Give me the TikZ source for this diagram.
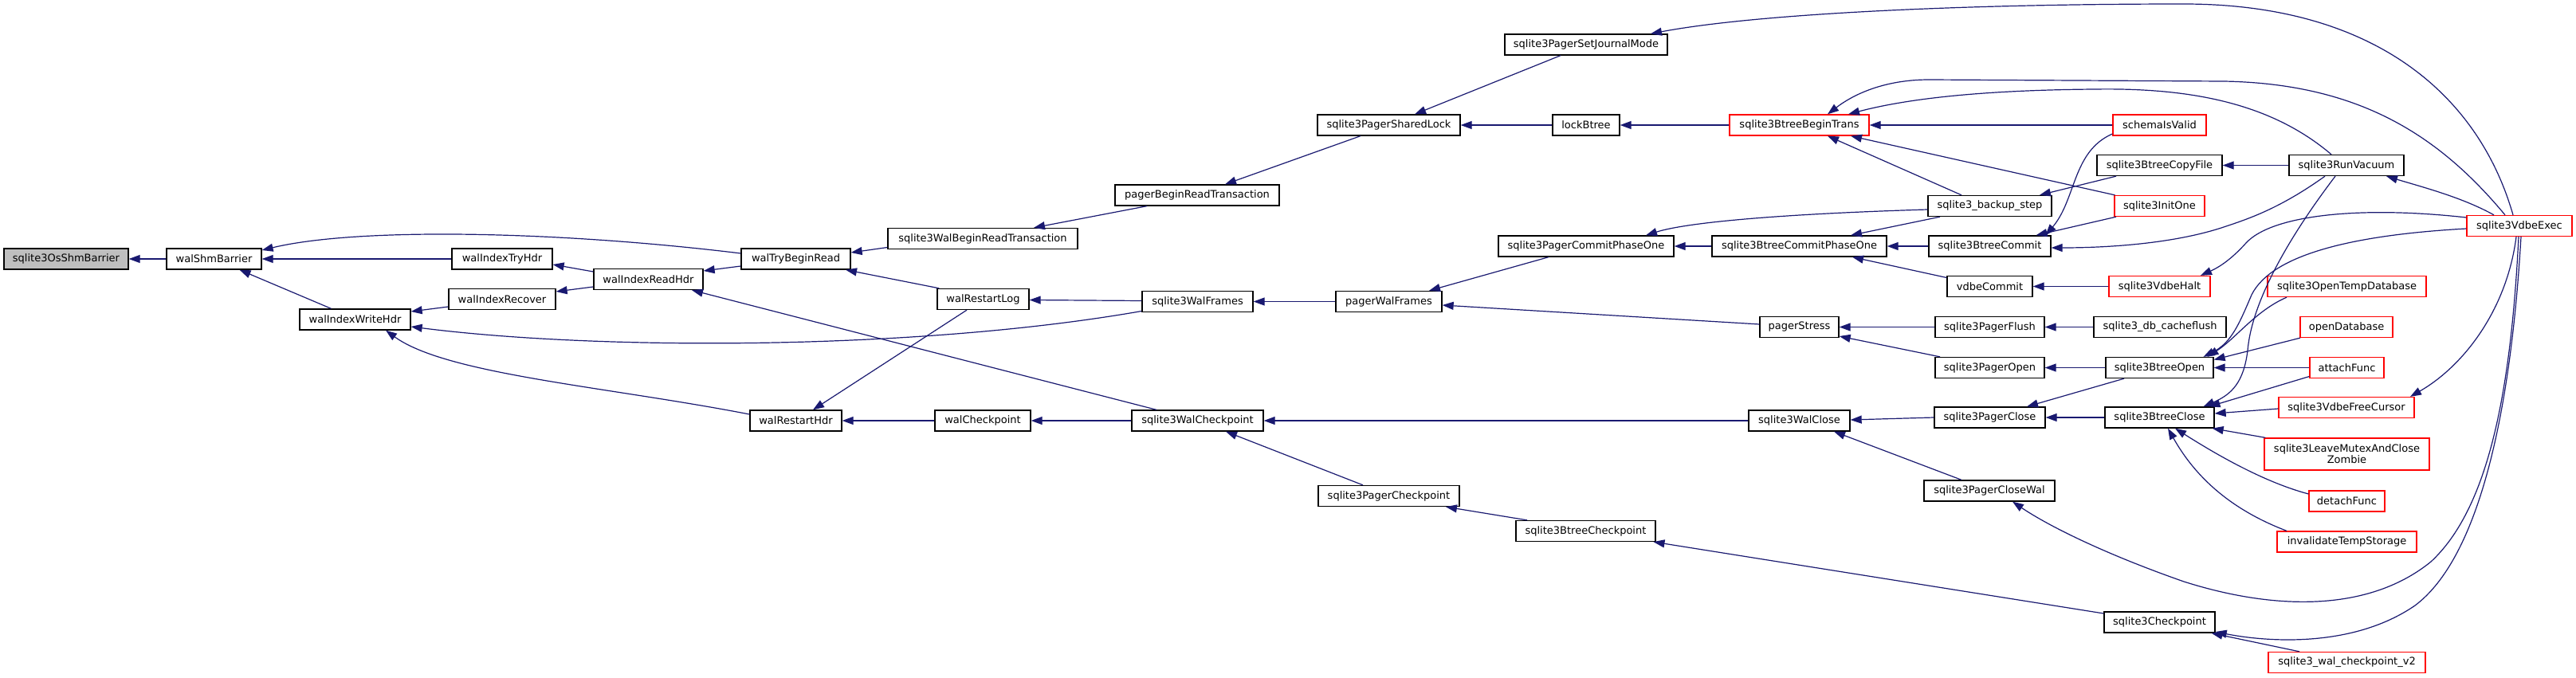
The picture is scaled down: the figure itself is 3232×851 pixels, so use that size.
\documentclass[tikz,border=0pt]{standalone}
\usepackage{fontspec}
\setmainfont{DejaVu Sans}
\usetikzlibrary{arrows.meta,calc}
\definecolor{edgeblue}{HTML}{191970}
\definecolor{rootgray}{HTML}{BFBFBF}
\begin{document}
\begin{tikzpicture}[x=1pt,y=-1pt,font=\fontsize{13}{14}\selectfont,
  box/.style={draw=black,line width=1.3pt,fill=white,inner sep=0pt,minimum height=26pt},
  redbox/.style={box,draw=red},
  rootbox/.style={box,fill=rootgray},
  edge/.style={draw=edgeblue,line width=1.2pt,-{Triangle[length=14pt,width=10pt]}}]
\useasboundingbox (0,0) rectangle (3232,851);
\node[rootbox, minimum width=156pt] (OSB) at (83,325) {sqlite3OsShmBarrier};
\node[box, minimum width=119pt] (WSB) at (268.5,325) {walShmBarrier};
\node[box, minimum width=139pt] (WIWH) at (445.5,401) {walIndexWriteHdr};
\node[box, minimum width=126pt] (WITH) at (630,325) {walIndexTryHdr};
\node[box, minimum width=134pt] (WIR) at (630,375.5) {walIndexRecover};
\node[box, minimum width=137pt] (WIRH) at (813.5,350.5) {walIndexReadHdr};
\node[box, minimum width=137pt] (WTBR) at (998.5,325) {walTryBeginRead};
\node[box, minimum width=115pt] (WRH) at (998.5,528) {walRestartHdr};
\node[box, minimum width=238pt] (WBRT) at (1233,299.5) {sqlite3WalBeginReadTransaction};
\node[box, minimum width=115pt] (WRL) at (1233.5,375.5) {walRestartLog};
\node[box, minimum width=120pt] (WCP) at (1233,528) {walCheckpoint};
\node[box, minimum width=206pt] (PBRT) at (1502,245) {pagerBeginReadTransaction};
\node[box, minimum width=139pt] (WF) at (1502.5,378.5) {sqlite3WalFrames};
\node[box, minimum width=165pt] (SWC) at (1502.5,528) {sqlite3WalCheckpoint};
\node[box, minimum width=179pt] (PSL) at (1742.5,157) {sqlite3PagerSharedLock};
\node[box, minimum width=133pt] (PWF) at (1742.5,378.5) {pagerWalFrames};
\node[box, minimum width=177pt] (PCP) at (1742.5,622.5) {sqlite3PagerCheckpoint};
\node[box, minimum width=204pt] (PSJM) at (1990,56) {sqlite3PagerSetJournalMode};
\node[box, minimum width=84pt] (LB) at (1990,157) {lockBtree};
\node[box, minimum width=220pt] (PC1) at (1990,309) {sqlite3PagerCommitPhaseOne};
\node[box, minimum width=175pt] (BCP) at (1989.5,666.5) {sqlite3BtreeCheckpoint};
\node[redbox, minimum width=175pt] (BBT) at (2257.5,157) {sqlite3BtreeBeginTrans};
\node[box, minimum width=219pt] (BC1) at (2257.5,309) {sqlite3BtreeCommitPhaseOne};
\node[box, minimum width=99pt] (PS) at (2257.5,410.5) {pagerStress};
\node[box, minimum width=127pt] (WC) at (2257.5,528) {sqlite3WalClose};
\node[box, minimum width=155pt] (BS) at (2496.5,258.5) {sqlite3\_backup\_step};
\node[box, minimum width=153pt] (BCm) at (2496.5,309) {sqlite3BtreeCommit};
\node[box, minimum width=107pt] (VC) at (2496.5,359.5) {vdbeCommit};
\node[box, minimum width=137pt] (PF) at (2496.5,410.5) {sqlite3PagerFlush};
\node[box, minimum width=137pt] (PO) at (2496.5,461.5) {sqlite3PagerOpen};
\node[box, minimum width=139pt] (PCl) at (2496.5,524) {sqlite3PagerClose};
\node[box, minimum width=164pt] (PCW) at (2496,616) {sqlite3PagerCloseWal};
\node[redbox, minimum width=117pt] (SIV) at (2709.5,157) {schemaIsValid};
\node[box, minimum width=157pt] (BCF) at (2709.5,207.5) {sqlite3BtreeCopyFile};
\node[redbox, minimum width=113pt] (IO) at (2709.5,258.5) {sqlite3InitOne};
\node[redbox, minimum width=127pt] (VH) at (2709.5,359.5) {sqlite3VdbeHalt};
\node[box, minimum width=166pt] (DCF) at (2710,410.5) {sqlite3\_db\_cacheflush};
\node[box, minimum width=135pt] (BO) at (2709.5,461.5) {sqlite3BtreeOpen};
\node[box, minimum width=137pt] (BCl) at (2709.5,524) {sqlite3BtreeClose};
\node[box, minimum width=139pt] (CK) at (2709.5,781) {sqlite3Checkpoint};
\node[box, minimum width=144pt] (RV) at (2944,207.5) {sqlite3RunVacuum};
\node[redbox, minimum width=199pt] (OTD) at (2944.5,359.5) {sqlite3OpenTempDatabase};
\node[redbox, minimum width=116pt] (OD) at (2944,410.5) {openDatabase};
\node[redbox, minimum width=93pt] (AF) at (2944.5,461.5) {attachFunc};
\node[redbox, minimum width=170pt] (VFC) at (2944,511.5) {sqlite3VdbeFreeCursor};
\node[redbox, minimum width=207pt, minimum height=40pt, align=center] (LMZ) at (2944.5,570) {sqlite3LeaveMutexAndClose\\Zombie};
\node[redbox, minimum width=95pt] (DF) at (2944.5,629) {detachFunc};
\node[redbox, minimum width=175pt] (ITS) at (2944.5,680) {invalidateTempStorage};
\node[redbox, minimum width=197pt] (WCV2) at (2944.5,831.5) {sqlite3\_wal\_checkpoint\_v2};
\node[redbox, minimum width=132pt] (VE) at (3161,283.5) {sqlite3VdbeExec};
% edges
\draw[edge] (WSB.west) -- (OSB.east);
\draw[edge] (WITH.west) -- (WSB.east);
\draw[edge] ($(WTBR.west)+(0,-7)$) .. controls (700,290) and (450,285) .. ($(WSB.east)+(0,-11)$);
\draw[edge] ($(WIWH.north)+(-30,0)$) -- ($(WSB.south)+(32,0)$);
\draw[edge] ($(WIRH.west)+(0,-9.5)$) -- ($(WITH.east)+(0,7)$);
\draw[edge] ($(WIRH.west)+(0,9.5)$) -- ($(WIR.east)+(0,-9.5)$);
\draw[edge] ($(WIR.west)+(0,9.5)$) -- ($(WIWH.east)+(0,-10)$);
\draw[edge] ($(WF.west)+(0,12)$) .. controls (1150,440) and (750,440) .. ($(WIWH.east)+(0,9)$);
\draw[edge] ($(WRH.west)+(0,-8)$) .. controls (760,485) and (560,470) .. ($(WIWH.south)+(38.5,0)$);
\draw[edge] ($(WTBR.west)+(0,9)$) -- ($(WIRH.east)+(0,-10.5)$);
\draw[edge] ($(SWC.north)+(-51.5,0)$) -- ($(WIRH.south)+(54.5,0)$);
\draw[edge] ($(WBRT.west)+(0,11)$) -- ($(WTBR.east)+(0,-8)$);
\draw[edge] ($(WRL.north west)+(3,0)$) -- ($(WTBR.south)+(62.5,0)$);
\draw[edge] ($(PBRT.south)+(-63,0)$) -- ($(WBRT.north)+(64,0)$);
\draw[edge] ($(PSL.south)+(-35.5,0)$) -- ($(PBRT.north)+(35,0)$);
\draw[edge] ($(WF.west)+(0,-1)$) -- ($(WRL.east)+(0,1)$);
\draw[edge] ($(WRL.south)+(-20.5,0)$) -- ($(WRH.north)+(21.5,0)$);
\draw[edge] (WCP.west) -- (WRH.east);
\draw[edge] (SWC.west) -- (WCP.east);
\draw[edge] (PWF.west) -- (WF.east);
\draw[edge] (WC.west) -- (SWC.east);
\draw[edge] ($(PCP.north)+(-32.5,0)$) -- ($(SWC.south)+(35.5,0)$);
\draw[edge] ($(PSJM.south)+(-32,0)$) -- ($(PSL.north)+(32.5,0)$);
\draw[edge] (LB.west) -- (PSL.east);
\draw[edge] (BBT.west) -- (LB.east);
\draw[edge] ($(VE.north)+(-8,0)$) .. controls (3110,120) and (2980,5) .. (2740,5) .. controls (2450,5) and (2200,18) .. ($(PSJM.north)+(81,0)$);
\draw[edge] ($(PC1.south)+(-47,0)$) -- ($(PWF.north)+(50.5,0)$);
\draw[edge] ($(PS.west)+(0,-3.5)$) -- ($(PWF.east)+(0,4.5)$);
\draw[edge] (BC1.west) -- (PC1.east);
\draw[edge] ($(BS.west)+(0,4.5)$) .. controls (2250,268) and (2120,278) .. ($(PC1.north)+(75,0)$);
\draw[edge] (BCm.west) -- (BC1.east);
\draw[edge] ($(BS.south)+(-62.5,0)$) -- ($(BC1.north)+(64.5,0)$);
\draw[edge] ($(VC.west)+(0,-11)$) -- ($(BC1.south)+(66.5,0)$);
\draw[edge] ($(VE.north)+(-18,0)$) .. controls (3060,170) and (2960,105) .. (2790,102) -- (2420,100) .. controls (2370,100) and (2330,115) .. ($(BBT.north)+(35.5,0)$);
\draw[edge] ($(RV.north)+(-19,0)$) .. controls (2850,130) and (2750,110) .. (2628,112) .. controls (2500,113) and (2400,122) .. ($(BBT.north)+(61.5,0)$);
\draw[edge] (SIV.west) -- (BBT.east);
\draw[edge] ($(IO.north)+(-56,0)$) -- ($(BBT.south)+(64.5,0)$);
\draw[edge] ($(BS.north)+(-35.5,0)$) -- ($(BBT.south)+(35.5,0)$);
\draw[edge] ($(BCF.south)+(-54.5,0)$) -- ($(BS.north)+(62.5,0)$);
\draw[edge] (RV.west) -- (BCF.east);
\draw[edge] ($(SIV.west)+(0,11)$) .. controls (2600,190) and (2605,250) .. ($(BCm.north)+(70,0)$);
\draw[edge] ($(IO.south)+(-54.5,0)$) -- ($(BCm.north)+(58,0)$);
\draw[edge] ($(RV.south)+(-27,0)$) .. controls (2860,262) and (2820,275) .. (2790,285) .. controls (2730,305) and (2650,311) .. ($(BCm.east)+(0,2)$);
\draw[edge] ($(VE.north)+(-32,0)$) .. controls (3090,248) and (3040,235) .. ($(RV.south)+(50,0)$);
\draw[edge] (VH.west) -- (VC.east);
\draw[edge] ($(VE.west)+(0,-10.5)$) .. controls (2960,258) and (2850,270) .. (2818,305) .. controls (2800,325) and (2785,335) .. ($(VH.north)+(51.5,0)$);
\draw[edge] (DCF.west) -- (PF.east);
\draw[edge] (PF.west) -- (PS.east);
\draw[edge] ($(PO.north)+(-62.5,0)$) -- ($(PS.east)+(0,11.5)$);
\draw[edge] (BO.west) -- (PO.east);
\draw[edge] (AF.west) -- (BO.east);
\draw[edge] ($(OD.south)+(-58,0)$) -- ($(BO.east)+(0,-10)$);
\draw[edge] ($(OTD.south)+(-75.5,0)$) .. controls (2830,390) and (2805,425) .. ($(BO.north)+(60,0)$);
\draw[edge] ($(VE.west)+(0,3.5)$) .. controls (2950,295) and (2850,320) .. (2825,370) .. controls (2810,405) and (2800,430) .. ($(BO.north)+(55,0)$);
\draw[edge] ($(RV.south)+(-14,0)$) .. controls (2870,300) and (2825,380) .. (2820,440) .. controls (2815,480) and (2800,495) .. ($(BCl.north)+(55,0)$);
\draw[edge] ($(AF.west)+(0,11)$) -- ($(BCl.north)+(62,0)$);
\draw[edge] ($(BO.south)+(-44.5,0)$) -- ($(PCl.north)+(46.5,0)$);
\draw[edge] (BCl.west) -- (PCl.east);
\draw[edge] ($(VFC.west)+(0,1.5)$) -- ($(BCl.east)+(0,-5)$);
\draw[edge] ($(LMZ.north west)+(2,0)$) -- ($(BCl.south east)+(-3,0)$);
\draw[edge] ($(DF.west)+(0,-9)$) .. controls (2840,605) and (2780,570) .. ($(BCl.south)+(19.5,0)$);
\draw[edge] ($(ITS.north)+(-75.5,0)$) .. controls (2800,640) and (2755,600) .. ($(BCl.south)+(10.5,0)$);
\draw[edge] ($(VE.south)+(-4,0)$) .. controls (3145,390) and (3090,460) .. ($(VFC.north)+(80,0)$);
\draw[edge] (PCl.west) -- ($(WC.east)+(0,-1)$);
\draw[edge] ($(PCW.north)+(-35,0)$) -- ($(WC.south)+(43.5,0)$);
\draw[edge] ($(VE.south)+(-1,0)$) .. controls (3150,500) and (3120,640) .. (3050,705) .. controls (2970,770) and (2850,765) .. (2740,730) .. controls (2640,695) and (2570,660) .. ($(PCW.south)+(29,0)$);
\draw[edge] ($(BCP.north)+(-73.5,0)$) -- ($(PCP.south)+(71.5,0)$);
\draw[edge] ($(CK.west)+(0,-11)$) -- ($(BCP.south)+(85,0)$);
\draw[edge] ($(VE.south)+(2,0)$) .. controls (3150,520) and (3110,700) .. (3030,760) .. controls (2950,815) and (2840,805) .. ($(CK.east)+(0,12)$);
\draw[edge] ($(WCV2.north)+(-59.5,0)$) -- ($(CK.south)+(65,0)$);
\end{tikzpicture}
\end{document}
